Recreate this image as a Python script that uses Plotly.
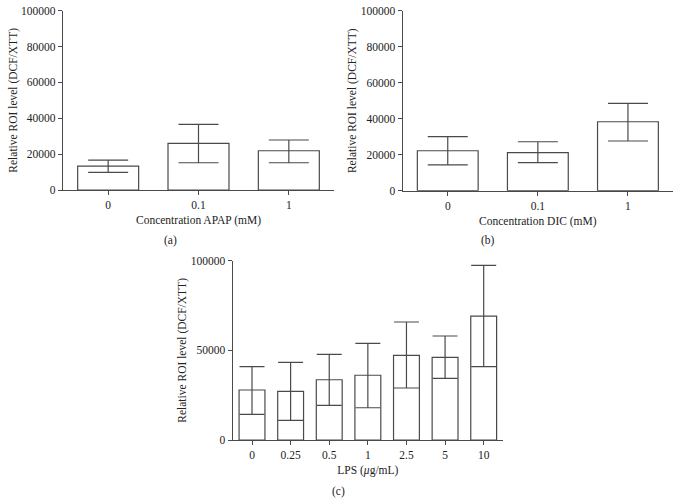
import plotly.graph_objects as go

# Panel (a)
a_cats = ["0", "0.1", "1"]
a_vals = [13300, 26000, 21900]
a_hi = [16700, 36600, 27900]
a_lo = [9850, 15200, 15200]

# Panel (b)
b_cats = ["0", "0.1", "1"]
b_vals = [22200, 21100, 38300]
b_hi = [30000, 27200, 48500]
b_lo = [14300, 15600, 27600]

# Panel (c)
c_cats = ["0", "0.25", "0.5", "1", "2.5", "5", "10"]
c_vals = [27900, 27100, 33600, 36100, 47200, 46100, 69100]
c_hi = [40900, 43300, 47800, 53900, 65800, 58000, 97400]
c_lo = [14300, 11000, 19300, 18000, 29000, 34400, 40900]

a_ticks = [0, 20000, 40000, 60000, 80000, 100000]
c_ticks = [0, 50000, 100000]

LC = "#4a4a4a"
FONT = "Liberation Serif"
W, H = 681, 503

fig = go.Figure()

def add_panel(cats, vals, hi, lo, xa, ya, bw, capw):
    fig.add_trace(go.Bar(
        x=cats, y=vals, xaxis=xa, yaxis=ya, width=bw,
        marker=dict(color="white", line=dict(color=LC, width=1.2)),
        error_y=dict(type="data", symmetric=False,
                     array=[h - v for h, v in zip(hi, vals)],
                     arrayminus=[v - l for v, l in zip(vals, lo)],
                     color=LC, thickness=1.2, width=capw),
        showlegend=False, hoverinfo="skip"))

add_panel(a_cats, a_vals, a_hi, a_lo, "x", "y", 0.675, 20)
add_panel(b_cats, b_vals, b_hi, b_lo, "x2", "y2", 0.675, 20)
add_panel(c_cats, c_vals, c_hi, c_lo, "x3", "y3", 0.67, 12.5)

ytitle = "Relative ROI level (DCF/XTT)"
tf = dict(family=FONT, size=11.5, color="#222")

def xax(dom, n, title, anchor):
    return dict(domain=dom, anchor=anchor, range=[-0.5, n - 0.5], type="category",
                showline=True, linecolor=LC, linewidth=1.2, ticks="outside",
                ticklen=4, tickcolor=LC, tickwidth=1.2, showgrid=False, zeroline=False,
                tickfont=tf, title=dict(text=title, font=tf, standoff=6),
                automargin=False, fixedrange=True)

def yax(dom, ticks, anchor):
    return dict(domain=dom, anchor=anchor, range=[0, 100000], tickvals=ticks,
                ticktext=[str(t) for t in ticks],
                showline=True, linecolor=LC, linewidth=1.2, ticks="outside",
                ticklen=4, tickcolor=LC, tickwidth=1.2, showgrid=False, zeroline=False,
                tickfont=tf, title=dict(text=ytitle, font=tf, standoff=1),
                automargin=False, fixedrange=True)

fig.update_layout(
    width=W, height=H, margin=dict(l=0, r=0, t=0, b=0, autoexpand=False),
    paper_bgcolor="white", plot_bgcolor="white",
    xaxis=xax([63 / W, 334 / W], 3, "Concentration APAP (mM)", "y"),
    yaxis=yax([1 - 190 / H, 1 - 10.7 / H], a_ticks, "x"),
    xaxis2=xax([402.7 / W, 673 / W], 3, "Concentration DIC (mM)", "y2"),
    yaxis2=yax([1 - 190.7 / H, 1 - 10.7 / H], a_ticks, "x2"),
    xaxis3=xax([232.7 / W, 503 / W], 7, "LPS (<i>μ</i>g/mL)", "y3"),
    yaxis3=yax([1 - 440 / H, 1 - 260.7 / H], c_ticks, "x3"),
    bargap=0.3,
)

for txt, x, y in [("(a)", 170, 240), ("(b)", 488, 240), ("(c)", 338, 491.5)]:
    fig.add_annotation(text=txt, x=x / W, y=1 - y / H, xref="paper", yref="paper",
                       showarrow=False, font=tf, xanchor="center", yanchor="middle")

fig.write_html("out.html", config={"displayModeBar": False},
               post_script="document.body.style.margin='0';document.body.style.overflow='hidden';")
